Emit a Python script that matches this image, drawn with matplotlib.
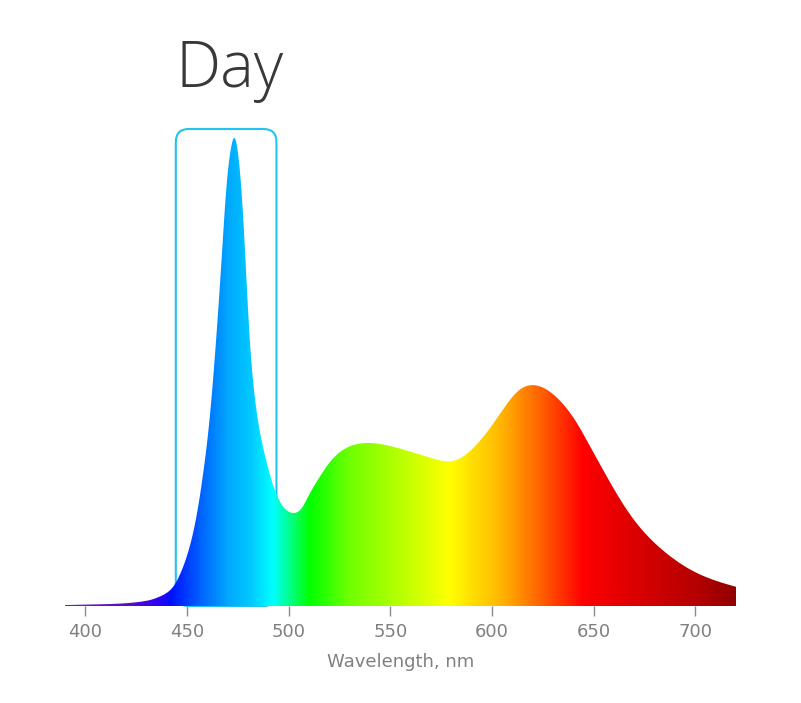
import numpy as np
import matplotlib
matplotlib.use("Agg")
import matplotlib.pyplot as plt
from matplotlib.colors import LinearSegmentedColormap
from matplotlib.patches import FancyBboxPatch, Polygon
from matplotlib.transforms import IdentityTransform

# Spectrum data (relative intensity)
wavelength = [390, 400, 410, 420, 427, 432, 436, 440, 443, 447, 451, 455, 458, 461, 464.5,
              467, 469.5, 471.5, 473.4, 475.3, 477.5, 480.8, 483, 485.7, 489, 492, 497, 502,
              506, 510, 515, 520, 525, 530, 537, 545, 555, 565, 572, 578, 584, 590.6, 599,
              607.4, 613, 620, 627, 634, 641, 648, 655, 661.6, 669.5, 677.8, 686, 694, 702,
              710.8, 720]
intensity = [0.002, 0.003, 0.004, 0.006, 0.009, 0.013, 0.019, 0.028, 0.040, 0.072, 0.122, 0.200,
             0.285, 0.395, 0.580, 0.740, 0.900, 0.975, 1.000, 0.960, 0.840, 0.575, 0.460,
             0.376, 0.310, 0.263, 0.214, 0.199, 0.207, 0.237, 0.274, 0.306, 0.328, 0.341,
             0.348, 0.346, 0.336, 0.323, 0.314, 0.309, 0.315, 0.337, 0.380, 0.432, 0.460,
             0.472, 0.462, 0.436, 0.396, 0.343, 0.288, 0.238, 0.186, 0.144, 0.112, 0.087,
             0.068, 0.053, 0.041]

# Spectral colour stops (wavelength, colour)
stop_wl = [390, 420, 435, 442, 456, 470, 482, 492, 500, 510, 530, 555, 579, 604, 628, 645, 673, 702, 720]
stop_col = ["#7a1fa0", "#5a0ccc", "#3000f0", "#0010ff", "#0060ff", "#00a8ff", "#00ccff",
            "#00ffff", "#00ff90", "#00ff00", "#70ff00", "#b8ff00", "#ffff00", "#ffb800",
            "#ff5000", "#ff0000", "#d80000", "#b40000", "#900000"]

ticks = [400, 450, 500, 550, 600, 650, 700]
title = "Day"
xlabel = "Wavelength, nm"
box_range = (444.5, 494.0)


def natural_spline(x, y, xn):
    """Natural cubic spline, numpy only."""
    x = np.asarray(x, float)
    y = np.asarray(y, float)
    n = len(x)
    h = np.diff(x)
    A = np.zeros((n, n))
    b = np.zeros(n)
    A[0, 0] = A[-1, -1] = 1.0
    for i in range(1, n - 1):
        A[i, i - 1] = h[i - 1]
        A[i, i] = 2 * (h[i - 1] + h[i])
        A[i, i + 1] = h[i]
        b[i] = 3 * ((y[i + 1] - y[i]) / h[i] - (y[i] - y[i - 1]) / h[i - 1])
    c = np.linalg.solve(A, b)
    bb = (y[1:] - y[:-1]) / h - h * (2 * c[:-1] + c[1:]) / 3
    d = (c[1:] - c[:-1]) / (3 * h)
    idx = np.clip(np.searchsorted(x, xn) - 1, 0, n - 2)
    t = xn - x[idx]
    return y[idx] + bb[idx] * t + c[idx] * t**2 + d[idx] * t**3


W, H, DPI = 801, 703, 100
fig = plt.figure(figsize=(W / DPI, H / DPI), dpi=DPI)
ax = fig.add_axes([65 / W, (H - 606) / H, (736 - 65) / W, 468 / H])

xmin, xmax = stop_wl[0], stop_wl[-1]
ax.set_xlim(xmin, xmax)
ax.set_ylim(0, 1.0)

span = xmax - xmin
cmap = LinearSegmentedColormap.from_list(
    "spec", [((w - xmin) / span, c) for w, c in zip(stop_wl, stop_col)], N=512)
grad = np.linspace(0, 1, 1000).reshape(1, -1)
im = ax.imshow(grad, cmap=cmap, aspect="auto", extent=[xmin, xmax, 0, 1.05],
               origin="lower", interpolation="bilinear", zorder=3)
fine = np.linspace(wavelength[0], wavelength[-1], 3000)
fy = np.clip(natural_spline(wavelength, intensity, fine), 0, None)
verts = np.column_stack([np.r_[fine, fine[-1], fine[0]], np.r_[fy, 0, 0]])
poly = Polygon(verts, closed=True, facecolor="none", edgecolor="none", transform=ax.transData)
ax.add_patch(poly)
im.set_clip_path(poly)

# rounded highlight box (drawn in pixel space, behind the spectrum)
fig.canvas.draw()
x0, y0 = ax.transData.transform((box_range[0], 0))
x1, _ = ax.transData.transform((box_range[1], 0))
ytop = H - 129
box = FancyBboxPatch((x0, y0), x1 - x0, ytop - y0,
                     boxstyle="round,pad=0,rounding_size=13",
                     transform=IdentityTransform(), fill=False,
                     edgecolor="#22c4ee", linewidth=1.5, zorder=2, clip_on=False)
ax.add_patch(box)

for s in ax.spines.values():
    s.set_visible(False)
ax.set_yticks([])
ax.set_xticks(ticks)
ax.tick_params(axis="x", colors="#8a8a8a", labelsize=13, length=7, width=1, pad=5)
for lab in ax.get_xticklabels():
    lab.set_color("#808080")
ax.set_xlabel(xlabel, fontsize=13, color="#808080", labelpad=9)

fig.text(175 / W, (H - 87) / H, title, fontsize=46, color="#3a3735",
         family="Open Sans", fontweight="light", ha="left", va="baseline")

fig.savefig("out.png", dpi=DPI, facecolor="white")
